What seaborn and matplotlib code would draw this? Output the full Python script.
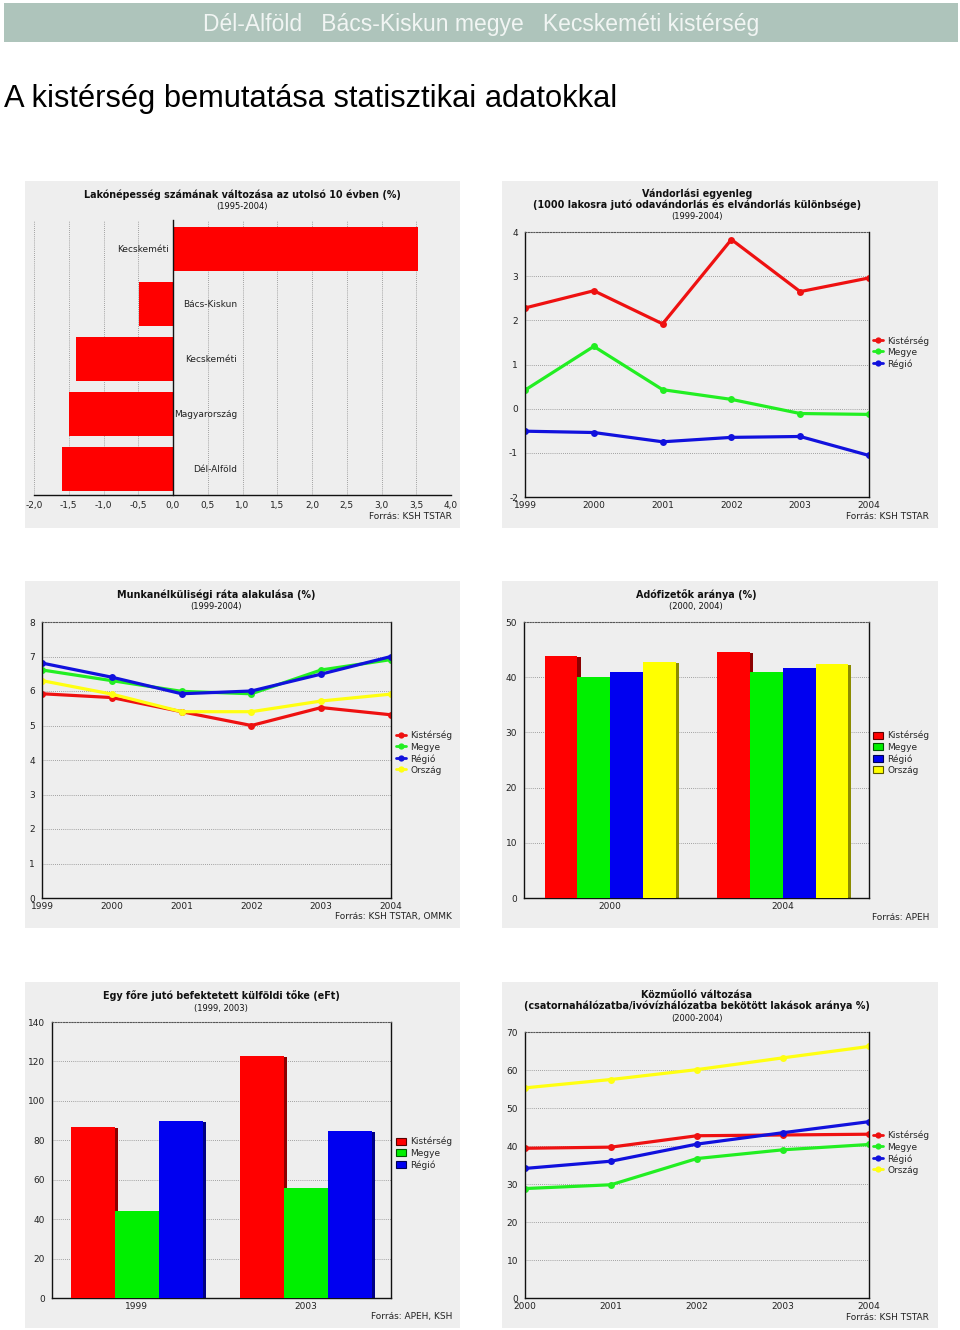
import numpy as np
import pandas as pd
import matplotlib
matplotlib.use("Agg")
import matplotlib.pyplot as plt
import seaborn as sns
from matplotlib.patches import Rectangle
from matplotlib.lines import Line2D
from matplotlib.colors import to_rgb

# ---------------- data ----------------
header_text = "Dél-Alföld   Bács-Kiskun megye   Kecskeméti kistérség"
page_title = "A kistérség bemutatása statisztikai adatokkal"

series_names = ["Kistérség", "Megye", "Régió", "Ország"]

pop_labels = ["Kecskeméti", "Bács-Kiskun", "Kecskeméti", "Magyarország", "Dél-Alföld"]
pop_values = [3.53, -0.49, -1.40, -1.50, -1.60]

mig_years = [1999, 2000, 2001, 2002, 2003, 2004]
mig_kisterseg = [2.28, 2.67, 1.92, 3.83, 2.65, 2.96]
mig_megye = [0.42, 1.41, 0.43, 0.21, -0.11, -0.13]
mig_regio = [-0.51, -0.54, -0.75, -0.65, -0.63, -1.06]

unemp_years = [1999, 2000, 2001, 2002, 2003, 2004]
unemp_kisterseg = [5.92, 5.81, 5.40, 5.00, 5.52, 5.31]
unemp_megye = [6.61, 6.30, 5.99, 5.92, 6.61, 6.91]
unemp_regio = [6.81, 6.40, 5.92, 6.00, 6.49, 7.00]
unemp_orszag = [6.30, 5.91, 5.40, 5.40, 5.71, 5.91]

tax_years = ["2000", "2004"]
tax_kisterseg = [43.9, 44.6]
tax_megye = [40.0, 41.0]
tax_regio = [41.0, 41.6]
tax_orszag = [42.7, 42.4]

fdi_years = ["1999", "2003"]
fdi_kisterseg = [86.9, 122.9]
fdi_megye = [44.1, 55.9]
fdi_regio = [89.8, 84.9]

util_years = [2000, 2001, 2002, 2003, 2004]
util_kisterseg = [39.4, 39.7, 42.7, 42.9, 43.1]
util_megye = [28.8, 29.8, 36.7, 39.0, 40.4]
util_regio = [34.1, 36.0, 40.5, 43.5, 46.4]
util_orszag = [55.3, 57.5, 60.1, 63.2, 66.2]

# ---------------- style ----------------
sns.set_theme(style="white")
plt.rcParams["font.family"] = ["DejaVu Sans"]
plt.rcParams["axes.unicode_minus"] = False

LINE_COLORS = {"Kistérség": "#ee1111", "Megye": "#22ee22", "Régió": "#1111dd", "Ország": "#ffff11"}
BAR_COLORS = {"Kistérség": "#ff0000", "Megye": "#00f000", "Régió": "#0000f0", "Ország": "#ffff00"}
BG = "#eeeeee"
GRID = dict(color="#888888", linestyle=(0, (1, 1.5)), linewidth=0.6)
TICK_FS = 6.5
TITLE_FS = 6.9

W, H = 960, 1330
fig = plt.figure(figsize=(9.6, 13.3), dpi=100)
fig.patch.set_facecolor("white")


def add_ax(x0, y0, x1, y1):
    return fig.add_axes([x0 / W, 1 - y1 / H, (x1 - x0) / W, (y1 - y0) / H])


def box(x0, y0, x1, y1, color):
    fig.add_artist(Rectangle((x0 / W, 1 - y1 / H), (x1 - x0) / W, (y1 - y0) / H,
                             transform=fig.transFigure, facecolor=color,
                             edgecolor="none", zorder=0))


def ftext(x, y, s, **kw):
    fig.text(x / W, 1 - y / H, s, **kw)


def darker(c, f=0.55):
    r, g, b = to_rgb(c)
    return (r * f, g * f, b * f)


def style_frame(ax):
    ax.set_facecolor(BG)
    for s in ["left", "bottom", "right"]:
        ax.spines[s].set_visible(True)
        ax.spines[s].set_color("#111111")
        ax.spines[s].set_linewidth(1.0)
    ax.spines["top"].set_visible(True)
    ax.spines["top"].set_color("#555555")
    ax.spines["top"].set_linestyle((0, (1, 1.5)))
    ax.spines["top"].set_linewidth(0.8)
    ax.yaxis.grid(True, **GRID)
    ax.xaxis.grid(False)
    ax.set_axisbelow(True)
    ax.tick_params(axis="both", length=0, labelsize=TICK_FS, colors="#222222")
    ax.tick_params(axis="y", pad=5)
    ax.tick_params(axis="x", pad=3)
    ax.set_xlabel("")
    ax.set_ylabel("")


def titles(cx, ys, lines, sizes):
    for y, s, (fs, wt) in zip(ys, lines, sizes):
        ftext(cx, y, s, ha="center", va="center", fontsize=fs, weight=wt, color="#111111")


def legend(ax, handles, labels, x, y):
    ax.legend(handles, labels, loc="upper left", bbox_to_anchor=(x / W, 1 - y / H),
              bbox_transform=fig.transFigure, frameon=False, fontsize=TICK_FS,
              handlelength=1.1, handleheight=0.8, handletextpad=0.5,
              labelspacing=0.25, borderpad=0, borderaxespad=0)


def line_panel(rect, years, data, ylim, yticks, legend_xy):
    ax = add_ax(*rect)
    df = pd.DataFrame({"year": np.tile(years, len(data)),
                       "value": np.concatenate([v for v in data.values()]),
                       "series": np.repeat(list(data.keys()), len(years))})
    sns.lineplot(data=df, x="year", y="value", hue="series",
                 palette={k: LINE_COLORS[k] for k in data}, marker="o",
                 markersize=5, markeredgewidth=0, linewidth=2.3, ax=ax,
                 legend=False)
    ax.set_xlim(years[0], years[-1])
    ax.set_ylim(*ylim)
    ax.set_yticks(yticks)
    ax.set_yticklabels([str(t) for t in yticks])
    ax.set_xticks(years)
    ax.set_xticklabels([str(y) for y in years])
    style_frame(ax)
    handles = [Line2D([0], [0], color=LINE_COLORS[k], lw=2, marker="o", ms=4.5,
                      markeredgewidth=0) for k in data]
    legend(ax, handles, list(data.keys()), *legend_xy)
    return ax


def bar_panel(rect, cats, data, ylim, yticks, legend_xy, width):
    ax = add_ax(*rect)
    df = pd.DataFrame({"cat": np.tile(cats, len(data)),
                       "value": np.concatenate([v for v in data.values()]),
                       "series": np.repeat(list(data.keys()), len(cats))})
    sns.barplot(data=df, x="cat", y="value", hue="series",
                palette={k: BAR_COLORS[k] for k in data}, width=width,
                saturation=1, edgecolor="none", ax=ax, legend=False, zorder=3)
    # simple 3D side shading
    d = 0.018
    for p in list(ax.patches):
        x, w, h = p.get_x(), p.get_width(), p.get_height()
        if h <= 0:
            continue
        c = p.get_facecolor()
        ax.add_patch(Rectangle((x + w, 0), d, h - 0.35 * (ylim[1] - ylim[0]) / 100,
                               facecolor=darker(c), edgecolor="none", zorder=2.5))
    ax.set_xlim(-0.5, len(cats) - 0.5)
    ax.set_ylim(*ylim)
    ax.set_yticks(yticks)
    ax.set_yticklabels([str(t) for t in yticks])
    style_frame(ax)
    handles = [Rectangle((0, 0), 1, 1, facecolor=BAR_COLORS[k],
                         edgecolor=darker(BAR_COLORS[k], 0.35), lw=0.8) for k in data]
    legend(ax, handles, list(data.keys()), *legend_xy)
    return ax


# ---------------- page header ----------------
box(4, 3, 958, 42, "#aec4bb")
ftext(481, 24, header_text, ha="center", va="center", fontsize=16.5,
      family=["Liberation Sans", "DejaVu Sans"], color="#f1f5f3")
ftext(4, 99, page_title, ha="left", va="center", fontsize=22.2,
      family=["Liberation Sans", "DejaVu Sans"], color="black")

# panel backgrounds
for r in [(25, 181, 460, 528), (502, 181, 938, 528), (25, 581, 460, 928),
          (502, 581, 938, 928), (25, 982, 460, 1328), (502, 982, 938, 1328)]:
    box(*r, BG)

# ---------------- panel 1: horizontal bars ----------------
ax1 = add_ax(34, 220, 451, 495)
ax1.set_facecolor(BG)
pdf = pd.DataFrame({"idx": list(range(len(pop_values))), "val": pop_values})
sns.barplot(data=pdf, x="val", y="idx", orient="h", color="#ff0000", width=0.79,
            saturation=1, edgecolor="none", ax=ax1, zorder=3)
ax1.set_xlim(-2, 4)
ax1.set_ylim(len(pop_values) - 0.53, -0.53)
xt = np.arange(-2, 4.01, 0.5)
ax1.set_xticks(xt)
ax1.set_xticklabels([f"{v:.1f}".replace(".", ",") for v in xt])
ax1.set_yticks([])
ax1.set_xlabel("")
ax1.set_ylabel("")
ax1.xaxis.grid(True, **GRID)
ax1.yaxis.grid(False)
ax1.set_axisbelow(True)
for s in ["top", "right"]:
    ax1.spines[s].set_visible(False)
ax1.spines["left"].set_position(("data", 0))
ax1.spines["left"].set_color("#111111")
ax1.spines["left"].set_linewidth(1.0)
ax1.spines["left"].set_zorder(4)
ax1.spines["bottom"].set_color("#111111")
ax1.spines["bottom"].set_linewidth(1.0)
ax1.tick_params(axis="x", length=2, width=0.6, color="#555555", labelsize=TICK_FS,
                colors="#222222", pad=2)
for i, (lab, v) in enumerate(zip(pop_labels, pop_values)):
    off = -3 if v >= 0 else 46
    ax1.annotate(lab, (0, i), xytext=(off, 0), textcoords="offset points",
                 ha="right", va="center", fontsize=TICK_FS, color="#222222", zorder=5)
titles(242, [195, 207],
       ["Lakónépesség számának változása az utolsó 10 évben (%)", "(1995-2004)"],
       [(TITLE_FS, "bold"), (6, "normal")])
ftext(452, 517, "Forrás: KSH TSTAR", ha="right", va="center", fontsize=TICK_FS, color="#222222")

# ---------------- panel 2: migration ----------------
line_panel((525, 232, 869, 497), mig_years,
           {"Kistérség": mig_kisterseg, "Megye": mig_megye, "Régió": mig_regio},
           (-2, 4), list(range(-2, 5)), (873, 336))
titles(697, [194, 205, 217],
       ["Vándorlási egyenleg", "(1000 lakosra jutó odavándorlás és elvándorlás különbsége)",
        "(1999-2004)"],
       [(TITLE_FS, "bold"), (TITLE_FS, "bold"), (6, "normal")])
ftext(929, 517, "Forrás: KSH TSTAR", ha="right", va="center", fontsize=TICK_FS, color="#222222")

# ---------------- panel 3: unemployment ----------------
line_panel((42, 622, 391, 898), unemp_years,
           {"Kistérség": unemp_kisterseg, "Megye": unemp_megye,
            "Régió": unemp_regio, "Ország": unemp_orszag},
           (0, 8), list(range(0, 9)), (396, 731))
titles(216, [595, 607], ["Munkanélküliségi ráta alakulása (%)", "(1999-2004)"],
       [(TITLE_FS, "bold"), (6, "normal")])
ftext(452, 917, "Forrás: KSH TSTAR, OMMK", ha="right", va="center", fontsize=TICK_FS, color="#222222")

# ---------------- panel 4: taxpayers ----------------
bar_panel((524, 622, 869, 898), tax_years,
          {"Kistérség": tax_kisterseg, "Megye": tax_megye,
           "Régió": tax_regio, "Ország": tax_orszag},
          (0, 50), list(range(0, 51, 10)), (873, 731), 0.76)
titles(696, [595, 607], ["Adófizetők aránya (%)", "(2000, 2004)"],
       [(TITLE_FS, "bold"), (6, "normal")])
ftext(929, 917, "Forrás: APEH", ha="right", va="center", fontsize=TICK_FS, color="#222222")

# ---------------- panel 5: FDI ----------------
bar_panel((52, 1022, 391, 1298), fdi_years,
          {"Kistérség": fdi_kisterseg, "Megye": fdi_megye, "Régió": fdi_regio},
          (0, 140), list(range(0, 141, 20)), (396, 1137), 0.78)
titles(221, [996, 1008], ["Egy főre jutó befektetett külföldi tőke (eFt)", "(1999, 2003)"],
       [(TITLE_FS, "bold"), (6, "normal")])
ftext(452, 1317, "Forrás: APEH, KSH", ha="right", va="center", fontsize=TICK_FS, color="#222222")

# ---------------- panel 6: utilities ----------------
line_panel((525, 1032, 869, 1298), util_years,
           {"Kistérség": util_kisterseg, "Megye": util_megye,
            "Régió": util_regio, "Ország": util_orszag},
           (0, 70), list(range(0, 71, 10)), (873, 1131))
titles(697, [995, 1006, 1018],
       ["Közműolló változása",
        "(csatornahálózatba/ivóvízhálózatba bekötött lakások aránya %)", "(2000-2004)"],
       [(TITLE_FS, "bold"), (TITLE_FS, "bold"), (6, "normal")])
ftext(929, 1317, "Forrás: KSH TSTAR", ha="right", va="center", fontsize=TICK_FS, color="#222222")

fig.savefig("out.png", dpi=100, facecolor="white")
